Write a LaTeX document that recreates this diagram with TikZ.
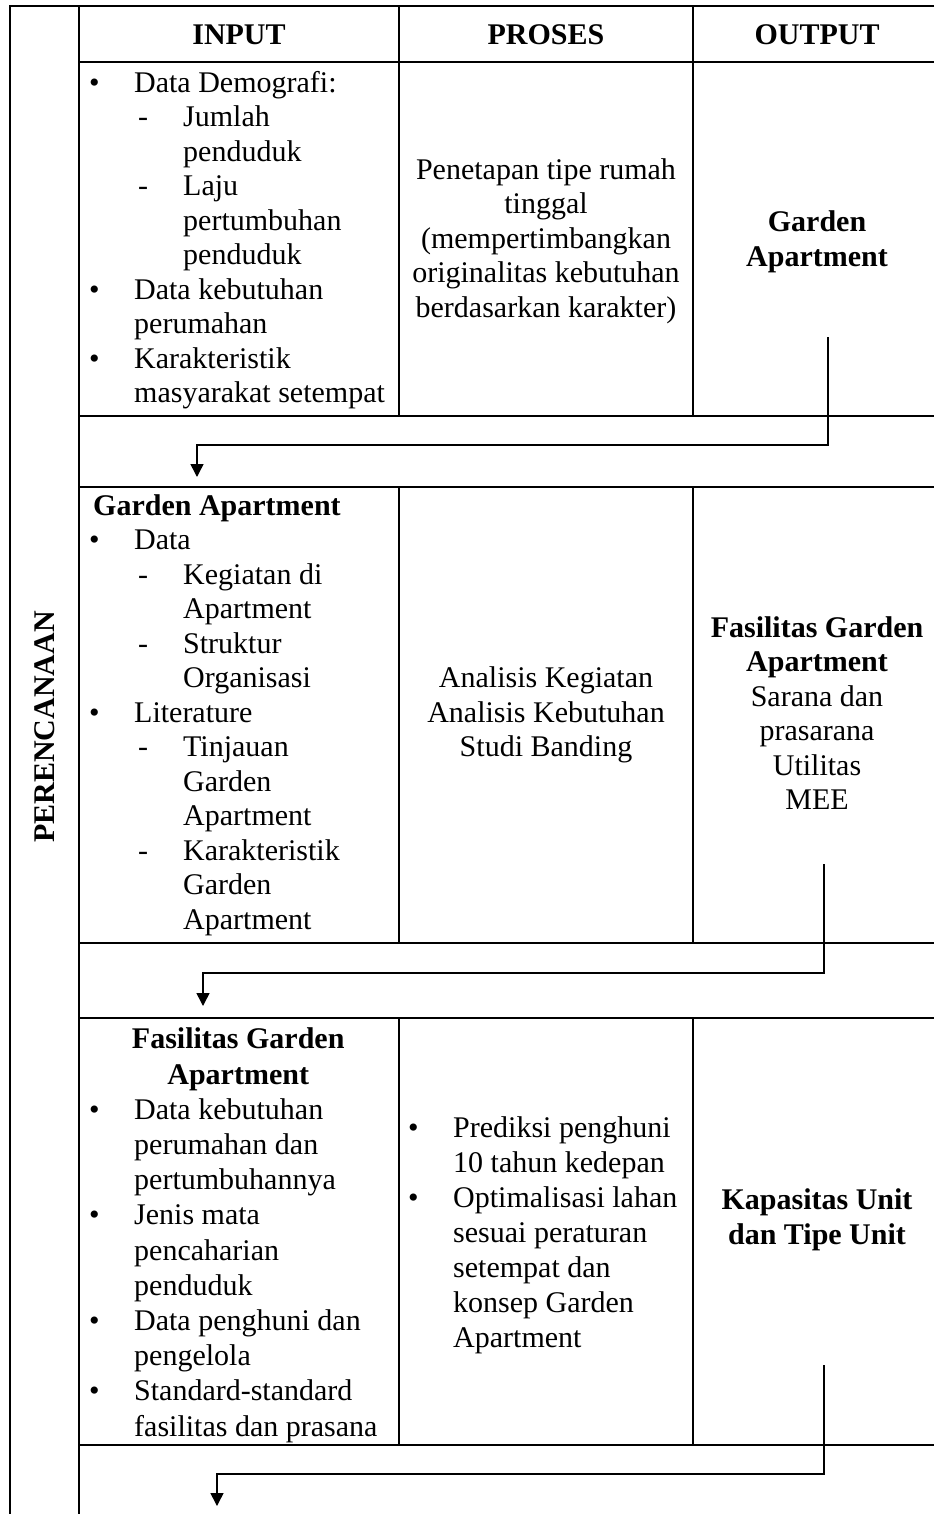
\documentclass[tikz,border=0pt]{standalone}
\usepackage{fontspec}
\setmainfont{Liberation Serif}
\usetikzlibrary{arrows.meta}

\newcommand{\bul}{\hspace*{9pt}\makebox[45pt][l]{\textbullet}}
\newcommand{\dsh}{\hspace*{58pt}\makebox[45pt][l]{-}}
\newcommand{\ind}{\hspace*{54pt}}
\newcommand{\indd}{\hspace*{103pt}}

\begin{document}
\begin{tikzpicture}[x=1pt, y=-1pt,
    txt/.style={inner sep=0pt, font=\fontsize{30}{34.5}\selectfont},
    bld/.style={inner sep=0pt, align=center, font=\fontsize{30}{34.5}\selectfont\bfseries},
    lst/.style={txt, align=left, anchor=north west},
    mid/.style={txt, align=center},
    tbl/.style={line width=2pt},
    flow/.style={line width=1.5pt, -{Triangle[length=13pt,width=13pt]}}]
    \useasboundingbox (0,0) rectangle (934,1514);

    % table lines
    \draw[tbl] (934,6) -- (10,6) -- (10,1514);
    \draw[tbl] (79,6) -- (79,1514);
    \foreach \y in {62,416,487,943,1018,1445}
        \draw[tbl] (79,\y) -- (934,\y);
    \foreach \x in {399,693} {
        \draw[tbl] (\x,6) -- (\x,416);
        \draw[tbl] (\x,487) -- (\x,943);
        \draw[tbl] (\x,1018) -- (\x,1445);
    }

    % header
    \node[bld] (hin) at (239,35) {INPUT};
    \node[bld] (hpro) at (546,35) {PROSES};
    \node[bld] (hout) at (817,35) {OUTPUT};
    \node[bld, rotate=90] (plan) at (45,727) {PERENCANAAN};

    % row 1
    \node[lst] (in1) at (80,68) {\strut\bul Data Demografi:\\
        \dsh Jumlah\\ \indd penduduk\\ \dsh Laju\\ \indd pertumbuhan\\ \indd penduduk\\
        \bul Data kebutuhan\\ \ind perumahan\\
        \bul Karakteristik\\ \ind masyarakat setempat};
    \node[mid] (pro1) at (546,241) {Penetapan tipe rumah\\ tinggal\\ (mempertimbangkan\\ originalitas kebutuhan\\ berdasarkan karakter)};
    \node[bld] (out1) at (817,242) {Garden\\ Apartment};

    % row 2
    \node[lst] (in2) at (80,491) {\strut\hspace*{13pt}\textbf{Garden Apartment}\\
        \bul Data\\ \dsh Kegiatan di\\ \indd Apartment\\ \dsh Struktur\\ \indd Organisasi\\
        \bul Literature\\ \dsh Tinjauan\\ \indd Garden\\ \indd Apartment\\
        \dsh Karakteristik\\ \indd Garden\\ \indd Apartment};
    \node[mid] (pro2) at (546,715) {Analisis Kegiatan\\ Analisis Kebutuhan\\ Studi Banding};
    \node[mid] (out2) at (817,713) {\textbf{Fasilitas Garden}\\ \textbf{Apartment}\\ Sarana dan\\ prasarana\\ Utilitas\\ MEE};

    % row 3
    \node[lst, font=\fontsize{30}{35.2}\selectfont] (in3) at (80,1024) {\strut\makebox[316pt][c]{\textbf{Fasilitas Garden}}\\
        \makebox[316pt][c]{\textbf{Apartment}}\\
        \bul Data kebutuhan\\ \ind perumahan dan\\ \ind pertumbuhannya\\
        \bul Jenis mata\\ \ind pencaharian\\ \ind penduduk\\
        \bul Data penghuni dan\\ \ind pengelola\\
        \bul Standard-standard\\ \ind fasilitas dan prasana};
    \node[lst, font=\fontsize{30}{35}\selectfont] (pro3) at (399,1113) {\strut\bul Prediksi penghuni\\ \ind 10 tahun kedepan\\
        \bul Optimalisasi lahan\\ \ind sesuai peraturan\\ \ind setempat dan\\ \ind konsep Garden\\ \ind Apartment};
    \node[bld] (out3) at (817,1220) {Kapasitas Unit\\ dan Tipe Unit};

    % arrows
    \coordinate (s1) at (828,337);
    \coordinate (e1) at (197,477);
    \draw[flow] (s1) -- (828,445) -| (e1);
    \coordinate (s2) at (824,864);
    \coordinate (e2) at (203,1006);
    \draw[flow] (s2) -- (824,973) -| (e2);
    \coordinate (s3) at (824,1365);
    \coordinate (e3) at (217,1506);
    \draw[flow] (s3) -- (824,1474) -| (e3);
\end{tikzpicture}
\end{document}
